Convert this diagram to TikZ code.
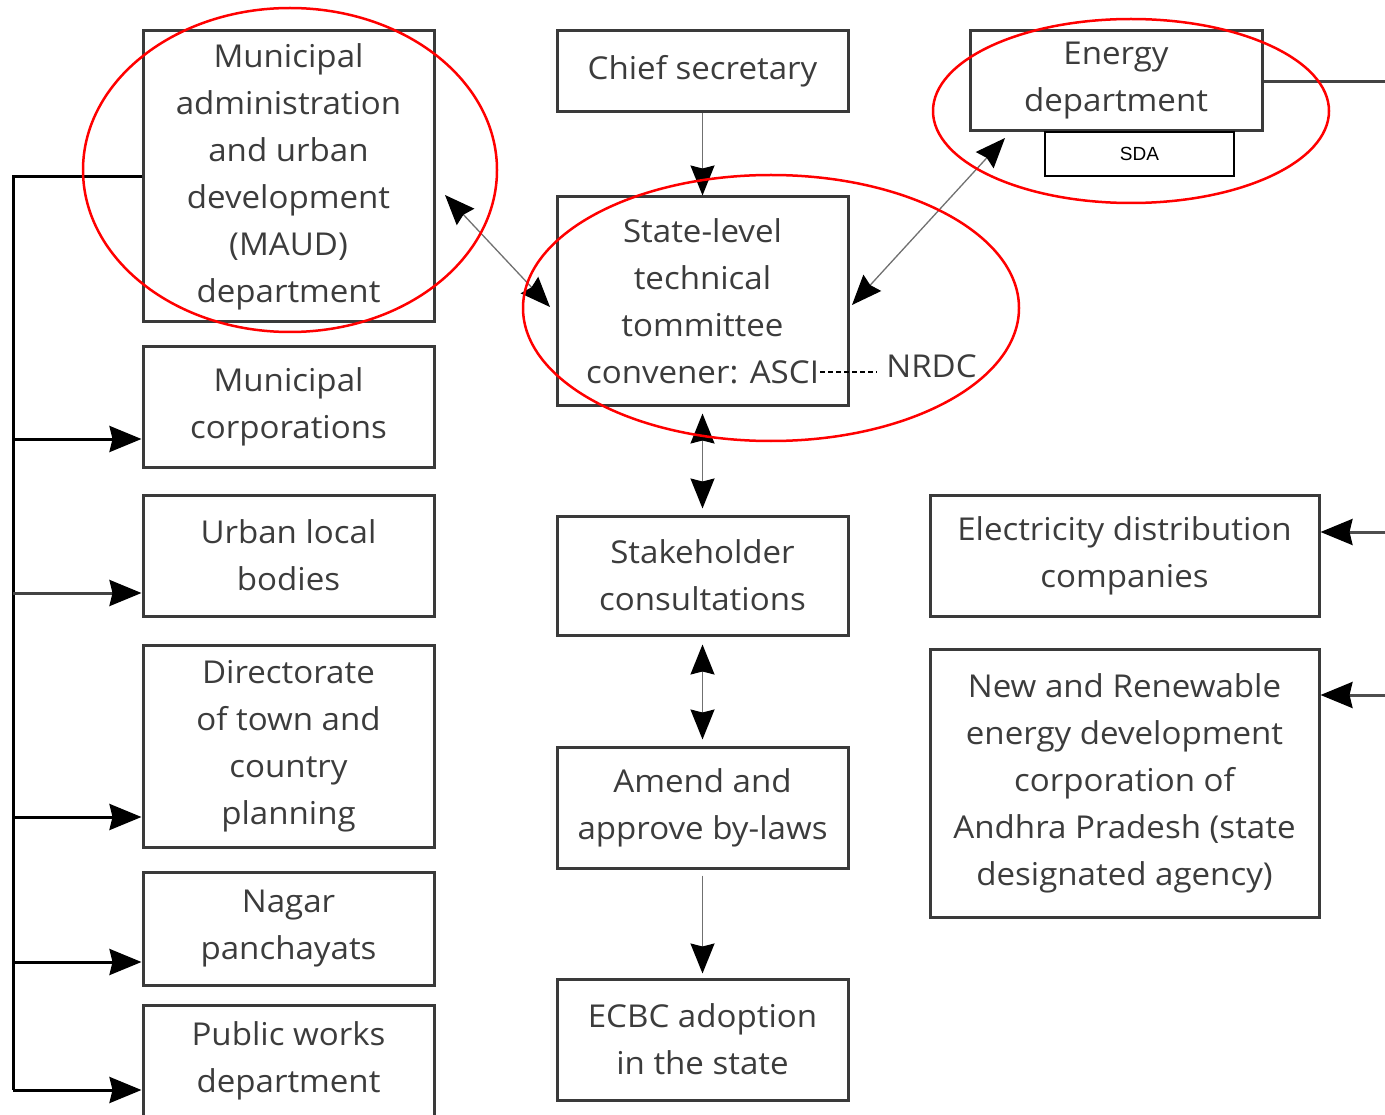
\documentclass[tikz,border=0pt]{standalone}
\usepackage{fontspec}
\setmainfont{Open Sans}[FakeStretch=1.05]
\newfontfamily\sdafont{Liberation Sans}
\usetikzlibrary{arrows.meta}
\definecolor{txt}{HTML}{3C3C3C}
\definecolor{boxc}{HTML}{3A3A3A}
\definecolor{conn}{HTML}{707070}
\tikzset{
  x=1pt, y=-1pt,
  bigtip/.tip={Stealth[length=32pt,width=26pt,inset=3pt,color=black]},
  midtip/.tip={Stealth[length=30pt,width=24pt,inset=3pt,color=black]},
  bx/.style={draw=boxc, line width=3pt, align=center, inner sep=0pt, text=txt,
    font=\fontsize{31.5}{47}\selectfont, minimum width=291pt},
  conline/.style={draw=conn, line width=1.6pt},
  busline/.style={draw=black, line width=3pt},
  redell/.style={draw=red, line width=2.5pt},
}
\begin{document}
\begin{tikzpicture}
\useasboundingbox (0,0) rectangle (1385,1115);
% left column
\node[bx, minimum height=291pt] (maud) at (288.5,176.5) {Municipal\\administration\\and urban\\development\\(MAUD)\\department};
\node[bx, minimum height=120pt] (mc) at (288.5,407) {Municipal\\corporations};
\node[bx, minimum height=121pt] (ulb) at (288.5,555.5) {Urban local\\bodies};
\node[bx, minimum height=202pt] (dtcp) at (288.5,746) {Directorate\\of town and\\country\\planning};
\node[bx, minimum height=113pt] (np) at (288.5,928.5) {Nagar\\panchayats};
\node[bx, minimum height=112pt] (pwd) at (288.5,1061) {Public works\\department};
% center column
\node[bx, minimum height=81pt] (chief) at (702.5,71.5) {Chief secretary};
\node[bx, minimum height=209pt] (stc) at (702.5,301.5) {State-level\\technical\\tommittee\\convener: ASCI};
\node[bx, minimum height=119pt] (stake) at (702.5,575.5) {Stakeholder\\consultations};
\node[bx, minimum height=121pt] (amend) at (702.5,807.5) {Amend and\\approve by-laws};
\node[bx, minimum height=121pt] (ecbc) at (702.5,1039.5) {ECBC adoption\\in the state};
% right column
\node[bx, minimum width=292pt, minimum height=100pt] (energy) at (1116,81) {Energy\\department};
\node[draw=black, line width=2.5pt, minimum width=189pt, minimum height=44pt, inner sep=0pt, font=\sdafont\fontsize{19}{22}\selectfont] (sda) at (1139.5,154) {SDA};
\node[bx, minimum width=389pt, minimum height=121pt] (edc) at (1124.5,555.5) {Electricity distribution\\companies};
\node[bx, minimum width=389pt, minimum height=268pt] (nredc) at (1124.5,783) {New and Renewable\\energy development\\corporation of\\Andhra Pradesh (state\\designated agency)};
% NRDC
\node[text=txt, inner sep=1pt, font=\fontsize{31.5}{47}\selectfont] (nrdc) at (931.5,366) {NRDC};
\coordinate (asci) at (820,372);
\draw[black, line width=1.5pt, dash pattern=on 5pt off 3pt] (asci) -- ([xshift=-8pt]asci -| nrdc.west);
% center connectors
\draw[conline, -midtip] (chief.south) -- (stc.north);
\draw[conline, midtip-midtip] ([yshift=-6pt]stc.south) -- ([yshift=6pt]stake.north);
\draw[conline, midtip-midtip] ([yshift=-8pt]stake.south) -- ([yshift=6pt]amend.north);
\draw[conline, -midtip] ([yshift=-6pt]amend.south) -- ([yshift=4pt]ecbc.north);
% diagonal connectors
\coordinate (d1) at (445,195);
\coordinate (d2) at (550,307);
\coordinate (d3) at (852,305);
\coordinate (d4) at (1005,138);
\draw[conline, line width=1.3pt, midtip-midtip] (d1) -- (d2);
\draw[conline, line width=1.3pt, midtip-midtip] (d3) -- (d4);
% left bus
\coordinate (bustop) at (13,177);
\coordinate (busbot) at (13,1090);
\draw[busline] (maud.west |- bustop) -- (bustop) -- (busbot);
\coordinate (b1) at (13,439);
\coordinate (b2) at (13,593);
\coordinate (b3) at (13,817);
\coordinate (b4) at (13,962);
\draw[busline, -bigtip] (b1) -- (b1 -| mc.west);
\draw[busline, draw=conn!60!black, -bigtip] (b2) -- (b2 -| ulb.west);
\draw[busline, -bigtip] (b3) -- (b3 -| dtcp.west);
\draw[busline, -bigtip] (b4) -- (b4 -| np.west);
\draw[busline, -bigtip] (busbot) -- (busbot -| pwd.west);
% right side
\coordinate (eright) at (1385,82);
\draw[busline, draw=conn!60!black] (energy.east |- eright) -- (eright);
\coordinate (r1) at (1385,532);
\coordinate (r2) at (1385,695);
\draw[busline, draw=conn!70!black, -bigtip] (r1) -- (r1 -| edc.east);
\draw[busline, draw=conn!70!black, -bigtip] (r2) -- (r2 -| nredc.east);
% red ellipses
\draw[redell] (290,170) ellipse [x radius=207pt, y radius=162pt];
\draw[redell] (771,308) ellipse [x radius=248pt, y radius=133pt];
\draw[redell] (1131,111) ellipse [x radius=198pt, y radius=92pt];
\end{tikzpicture}
\end{document}
